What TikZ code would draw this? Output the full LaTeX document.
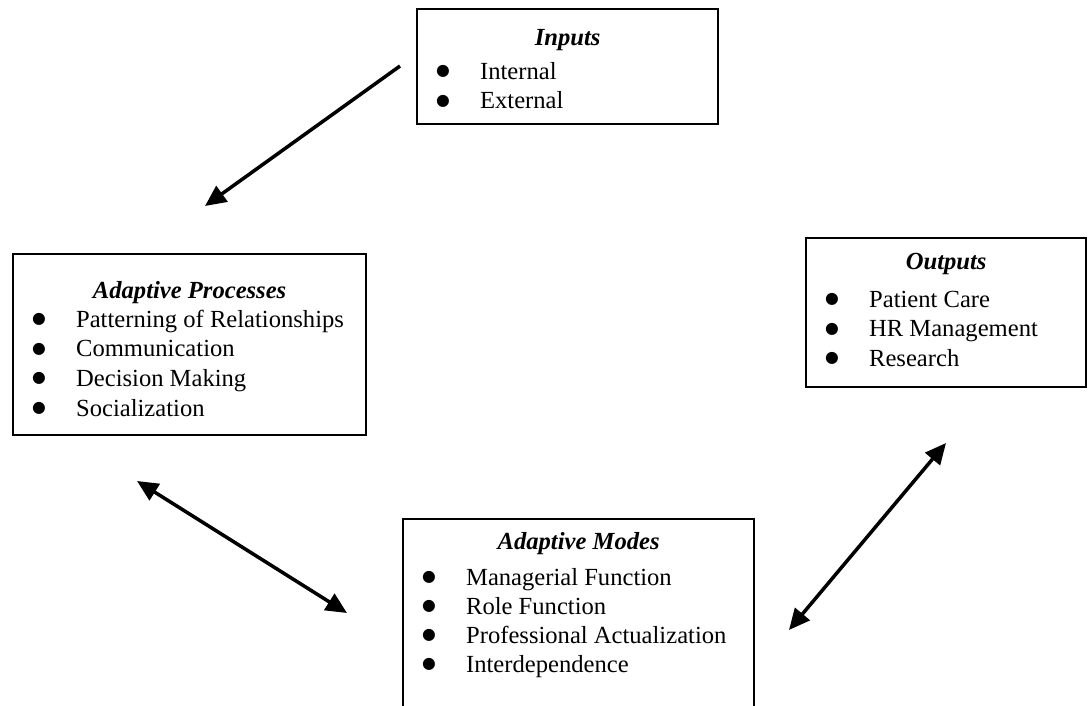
\documentclass[tikz,border=0pt]{standalone}
\usepackage{fontspec}
\setmainfont{Liberation Serif}
\newfontfamily\punktfont{DejaVu Sans}
\usepackage{tikz}
\usetikzlibrary{arrows.meta}

\newcommand{\bpunkt}[1]{\hspace*{0.38cm}\makebox[0.88cm][l]{\raisebox{2.2pt}{\punktfont\fontsize{9}{9}\selectfont ●}}#1}
\newcommand{\titel}[2]{\makebox[\linewidth]{\rule{0pt}{#1}\bfseries\itshape #2}}

\begin{document}
\begin{tikzpicture}[
		kasten/.style={draw, line width=1.3pt, inner sep=0pt, anchor=north west, font=\fontsize{14}{17}\selectfont},
		pfeil/.style={line width=2pt},
		>={Triangle[length=0.42cm,width=0.38cm]}]
		%Rahmen
		\useasboundingbox (0,0) rectangle (21.76,14.1);
		\clip (0,0) rectangle (21.76,14.1);
		
		%Kästen
		\node[kasten] (inputs) at (8.32,13.94) {\parbox[t][2.30cm][t]{6.02cm}{\raggedright
			\titel{0.72cm}{Inputs}\\[0.08cm]
			\bpunkt{Internal}\\
			\bpunkt{External}}};
		\node[kasten] (prozesse) at (0.24,9.04) {\parbox[t][3.62cm][t]{7.06cm}{\raggedright
			\titel{0.88cm}{Adaptive Processes}\\[-0.02cm]
			\bpunkt{Patterning of Relationships}\\
			\bpunkt{Communication}\\
			\bpunkt{Decision Making}\\
			\bpunkt{Socialization}}};
		\node[kasten] (outputs) at (16.10,9.36) {\parbox[t][2.98cm][t]{5.60cm}{\raggedright
			\titel{0.62cm}{Outputs}\\[0.16cm]
			\bpunkt{Patient Care}\\
			\bpunkt{HR Management}\\
			\bpunkt{Research}}};
		\node[kasten] (modi) at (8.04,3.74) {\parbox[t][4.20cm][t]{7.02cm}{\fontsize{14}{16.5}\selectfont\raggedright
			\titel{0.60cm}{Adaptive Modes}\\[0.14cm]
			\bpunkt{Managerial Function}\\
			\bpunkt{Role Function}\\
			\bpunkt{Professional Actualization}\\
			\bpunkt{Interdependence}}};
		
		%Pfeile
		\coordinate (ein) at (8.00,12.78);
		\coordinate (einZiel) at (4.10,9.98);
		\coordinate (linksOben) at (2.74,4.48);
		\coordinate (linksUnten) at (6.94,1.84);
		\coordinate (rechtsOben) at (18.92,5.24);
		\coordinate (rechtsUnten) at (15.78,1.50);
		
		\draw[pfeil,->] (ein) -- (einZiel);
		\draw[pfeil,<->] (linksOben) -- (linksUnten);
		\draw[pfeil,<->] (rechtsOben) -- (rechtsUnten);
		
\end{tikzpicture}
\end{document}
